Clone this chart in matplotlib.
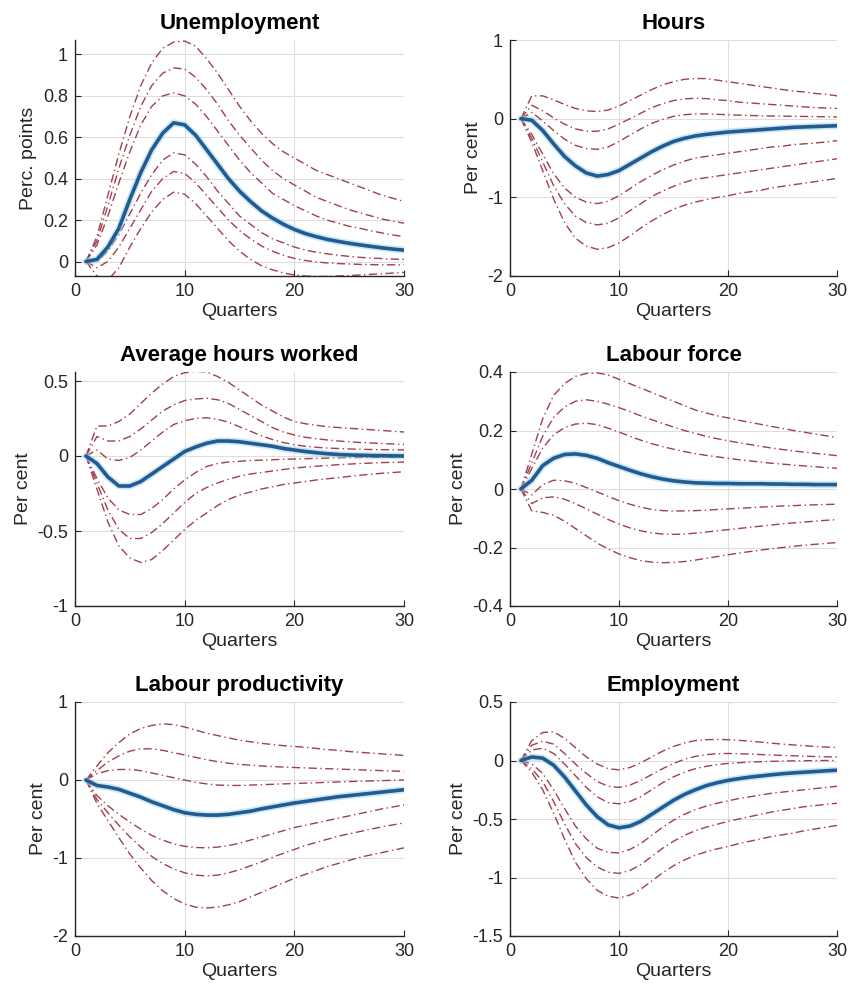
import numpy as np
from matplotlib import pyplot as plt
from matplotlib.ticker import FormatStrFormatter

plt.rcParams['font.family'] = ['Liberation Sans', 'DejaVu Sans']
plt.rcParams['axes.unicode_minus'] = False

##

quarters = list(range(1, 31))

# impulse responses: median plus three upper / three lower percentile bands
unemp_med = [0, 0.01, 0.07, 0.16, 0.30, 0.43, 0.54, 0.62, 0.67, 0.66,
             0.61, 0.54, 0.47, 0.40, 0.34, 0.29, 0.245, 0.21, 0.18, 0.155,
             0.135, 0.12, 0.107, 0.097, 0.088, 0.08, 0.073, 0.066, 0.06, 0.055]
unemp_bands = [
    [0, 0.12, 0.32, 0.52, 0.70, 0.85, 0.96, 1.03, 1.06, 1.065,
     1.04, 0.98, 0.91, 0.83, 0.75, 0.68, 0.62, 0.57, 0.53, 0.50,
     0.47, 0.44, 0.42, 0.40, 0.38, 0.36, 0.34, 0.32, 0.305, 0.29],
    [0, 0.10, 0.27, 0.45, 0.61, 0.75, 0.85, 0.91, 0.935, 0.93,
     0.89, 0.83, 0.76, 0.68, 0.61, 0.55, 0.49, 0.44, 0.40, 0.37,
     0.34, 0.31, 0.29, 0.27, 0.25, 0.235, 0.22, 0.205, 0.195, 0.185],
    [0, 0.08, 0.22, 0.38, 0.53, 0.66, 0.75, 0.80, 0.815, 0.80,
     0.76, 0.70, 0.63, 0.56, 0.49, 0.43, 0.38, 0.33, 0.30, 0.27,
     0.245, 0.22, 0.20, 0.185, 0.17, 0.16, 0.148, 0.138, 0.128, 0.12],
    [0, 0.0, 0.05, 0.13, 0.23, 0.33, 0.42, 0.49, 0.525, 0.515,
     0.47, 0.41, 0.34, 0.28, 0.22, 0.18, 0.14, 0.11, 0.09, 0.07,
     0.055, 0.045, 0.037, 0.03, 0.025, 0.02, 0.017, 0.014, 0.012, 0.01],
    [0, -0.03, 0.0, 0.07, 0.16, 0.25, 0.34, 0.40, 0.435, 0.425,
     0.38, 0.32, 0.26, 0.20, 0.15, 0.11, 0.075, 0.05, 0.03, 0.015,
     0.005, -0.002, -0.007, -0.01, -0.012, -0.014, -0.015, -0.016, -0.016, -0.016],
    [0, -0.07, -0.09, -0.03, 0.07, 0.16, 0.24, 0.30, 0.335, 0.325,
     0.28, 0.22, 0.16, 0.10, 0.05, 0.01, -0.02, -0.04, -0.055, -0.065,
     -0.07, -0.072, -0.072, -0.07, -0.068, -0.065, -0.062, -0.059, -0.056, -0.053],
]

hours_med = [0, -0.02, -0.15, -0.32, -0.48, -0.60, -0.69, -0.73, -0.71, -0.66,
             -0.58, -0.50, -0.42, -0.35, -0.29, -0.25, -0.22, -0.20, -0.185, -0.17,
             -0.16, -0.15, -0.14, -0.13, -0.12, -0.11, -0.105, -0.10, -0.095, -0.09]
hours_bands = [
    [0, 0.29, 0.29, 0.24, 0.18, 0.13, 0.10, 0.09, 0.11, 0.16,
     0.23, 0.30, 0.37, 0.43, 0.47, 0.50, 0.51, 0.51, 0.49, 0.47,
     0.45, 0.43, 0.41, 0.39, 0.37, 0.35, 0.34, 0.32, 0.31, 0.29],
    [0, 0.17, 0.10, 0.01, -0.07, -0.13, -0.16, -0.16, -0.13, -0.07,
     0.0, 0.07, 0.14, 0.19, 0.23, 0.25, 0.26, 0.255, 0.24, 0.23,
     0.21, 0.20, 0.19, 0.18, 0.17, 0.16, 0.15, 0.14, 0.135, 0.13],
    [0, 0.08, -0.03, -0.15, -0.26, -0.34, -0.38, -0.39, -0.36, -0.29,
     -0.21, -0.13, -0.06, -0.01, 0.03, 0.05, 0.06, 0.06, 0.055, 0.05,
     0.045, 0.04, 0.037, 0.034, 0.032, 0.03, 0.028, 0.026, 0.024, 0.022],
    [0, -0.20, -0.45, -0.70, -0.88, -1.00, -1.06, -1.08, -1.05, -0.98,
     -0.89, -0.80, -0.72, -0.65, -0.59, -0.54, -0.50, -0.48, -0.46, -0.44,
     -0.42, -0.40, -0.38, -0.36, -0.35, -0.33, -0.32, -0.31, -0.295, -0.28],
    [0, -0.25, -0.55, -0.85, -1.08, -1.24, -1.32, -1.35, -1.33, -1.26,
     -1.17, -1.08, -0.99, -0.92, -0.86, -0.81, -0.77, -0.75, -0.73, -0.71,
     -0.69, -0.67, -0.65, -0.63, -0.61, -0.59, -0.57, -0.55, -0.53, -0.51],
    [0, -0.30, -0.66, -1.02, -1.32, -1.52, -1.62, -1.66, -1.64, -1.58,
     -1.49, -1.39, -1.30, -1.22, -1.15, -1.10, -1.06, -1.03, -1.00, -0.98,
     -0.95, -0.93, -0.91, -0.88, -0.86, -0.84, -0.82, -0.80, -0.78, -0.76],
]

avgh_med = [0, -0.05, -0.14, -0.20, -0.20, -0.17, -0.12, -0.07, -0.02, 0.03,
            0.06, 0.085, 0.10, 0.10, 0.095, 0.085, 0.075, 0.065, 0.05, 0.04,
            0.03, 0.022, 0.015, 0.01, 0.007, 0.005, 0.003, 0.002, 0.001, 0.0]
avgh_bands = [
    [0, 0.20, 0.20, 0.23, 0.28, 0.35, 0.42, 0.48, 0.53, 0.555,
     0.565, 0.56, 0.53, 0.49, 0.44, 0.39, 0.34, 0.30, 0.26, 0.23,
     0.215, 0.205, 0.195, 0.19, 0.185, 0.18, 0.175, 0.17, 0.165, 0.16],
    [0, 0.13, 0.10, 0.10, 0.13, 0.18, 0.24, 0.30, 0.34, 0.37,
     0.38, 0.385, 0.375, 0.35, 0.31, 0.27, 0.23, 0.19, 0.16, 0.14,
     0.125, 0.115, 0.107, 0.10, 0.095, 0.09, 0.087, 0.083, 0.08, 0.077],
    [0, 0.04, -0.02, -0.03, -0.01, 0.04, 0.10, 0.16, 0.21, 0.235,
     0.25, 0.255, 0.245, 0.225, 0.195, 0.165, 0.135, 0.11, 0.09, 0.075,
     0.065, 0.058, 0.053, 0.05, 0.047, 0.045, 0.043, 0.042, 0.041, 0.04],
    [0, -0.15, -0.28, -0.36, -0.39, -0.39, -0.35, -0.29, -0.22, -0.16,
     -0.11, -0.07, -0.05, -0.04, -0.035, -0.03, -0.028, -0.025, -0.022, -0.02,
     -0.018, -0.016, -0.014, -0.012, -0.011, -0.01, -0.009, -0.008, -0.007, -0.006],
    [0, -0.18, -0.36, -0.49, -0.55, -0.55, -0.51, -0.45, -0.38, -0.31,
     -0.25, -0.21, -0.18, -0.155, -0.135, -0.12, -0.11, -0.10, -0.09, -0.08,
     -0.074, -0.068, -0.063, -0.058, -0.054, -0.05, -0.047, -0.044, -0.042, -0.04],
    [0, -0.22, -0.44, -0.60, -0.68, -0.71, -0.69, -0.63, -0.56, -0.49,
     -0.43, -0.38, -0.33, -0.29, -0.26, -0.24, -0.22, -0.205, -0.19, -0.18,
     -0.17, -0.16, -0.152, -0.144, -0.136, -0.128, -0.121, -0.115, -0.11, -0.105],
]

lforce_med = [0, 0.03, 0.08, 0.105, 0.118, 0.12, 0.115, 0.105, 0.09, 0.077,
              0.064, 0.052, 0.042, 0.034, 0.028, 0.024, 0.021, 0.02, 0.019, 0.019,
              0.018, 0.018, 0.018, 0.017, 0.017, 0.016, 0.016, 0.015, 0.015, 0.015]
lforce_bands = [
    [0, 0.12, 0.24, 0.32, 0.36, 0.385, 0.395, 0.397, 0.39, 0.375,
     0.36, 0.345, 0.33, 0.315, 0.30, 0.285, 0.27, 0.26, 0.25, 0.243,
     0.235, 0.228, 0.221, 0.214, 0.207, 0.20, 0.194, 0.188, 0.182, 0.176],
    [0, 0.09, 0.18, 0.245, 0.28, 0.30, 0.305, 0.30, 0.29, 0.278,
     0.265, 0.25, 0.237, 0.224, 0.212, 0.20, 0.19, 0.18, 0.172, 0.165,
     0.158, 0.152, 0.146, 0.14, 0.135, 0.13, 0.126, 0.122, 0.118, 0.114],
    [0, 0.07, 0.14, 0.185, 0.21, 0.222, 0.225, 0.22, 0.208, 0.195,
     0.18, 0.167, 0.155, 0.145, 0.136, 0.128, 0.121, 0.115, 0.11, 0.105,
     0.10, 0.096, 0.092, 0.088, 0.085, 0.082, 0.079, 0.076, 0.073, 0.071],
    [0, -0.02, 0.015, 0.03, 0.028, 0.02, 0.005, -0.01, -0.025, -0.04,
     -0.052, -0.062, -0.07, -0.074, -0.075, -0.075, -0.074, -0.072, -0.07, -0.068,
     -0.066, -0.064, -0.062, -0.06, -0.058, -0.057, -0.055, -0.054, -0.053, -0.052],
    [0, -0.05, -0.03, -0.027, -0.035, -0.05, -0.068, -0.086, -0.104, -0.12,
     -0.133, -0.143, -0.15, -0.154, -0.155, -0.154, -0.151, -0.147, -0.143, -0.139,
     -0.135, -0.131, -0.127, -0.123, -0.119, -0.116, -0.113, -0.11, -0.107, -0.105],
    [0, -0.075, -0.08, -0.09, -0.11, -0.135, -0.16, -0.185, -0.205, -0.222,
     -0.235, -0.245, -0.25, -0.252, -0.251, -0.248, -0.243, -0.237, -0.231, -0.225,
     -0.219, -0.214, -0.209, -0.204, -0.20, -0.196, -0.192, -0.189, -0.186, -0.183],
]

prod_med = [0, -0.07, -0.09, -0.12, -0.17, -0.22, -0.28, -0.33, -0.38, -0.42,
            -0.44, -0.45, -0.45, -0.44, -0.42, -0.40, -0.37, -0.345, -0.32, -0.295,
            -0.275, -0.255, -0.235, -0.215, -0.20, -0.185, -0.17, -0.155, -0.14, -0.125]
prod_bands = [
    [0, 0.18, 0.35, 0.48, 0.59, 0.66, 0.70, 0.72, 0.71, 0.68,
     0.64, 0.60, 0.57, 0.54, 0.51, 0.49, 0.47, 0.455, 0.44, 0.43,
     0.42, 0.405, 0.39, 0.38, 0.365, 0.355, 0.345, 0.335, 0.325, 0.315],
    [0, 0.12, 0.23, 0.31, 0.37, 0.40, 0.40, 0.38, 0.35, 0.32,
     0.29, 0.26, 0.235, 0.215, 0.20, 0.19, 0.18, 0.172, 0.166, 0.16,
     0.155, 0.15, 0.145, 0.14, 0.135, 0.13, 0.125, 0.12, 0.115, 0.11],
    [0, 0.08, 0.12, 0.135, 0.135, 0.12, 0.09, 0.06, 0.03, 0.0,
     -0.03, -0.05, -0.065, -0.07, -0.07, -0.065, -0.06, -0.055, -0.05, -0.045,
     -0.04, -0.035, -0.03, -0.025, -0.02, -0.016, -0.012, -0.008, -0.004, 0.0],
    [0, -0.20, -0.33, -0.44, -0.54, -0.63, -0.71, -0.77, -0.82, -0.85,
     -0.865, -0.87, -0.86, -0.84, -0.81, -0.77, -0.73, -0.69, -0.65, -0.61,
     -0.58, -0.55, -0.52, -0.49, -0.46, -0.43, -0.40, -0.37, -0.345, -0.32],
    [0, -0.25, -0.42, -0.58, -0.73, -0.86, -0.98, -1.07, -1.14, -1.19,
     -1.22, -1.23, -1.22, -1.19, -1.15, -1.10, -1.05, -0.99, -0.94, -0.89,
     -0.84, -0.80, -0.76, -0.72, -0.69, -0.66, -0.63, -0.60, -0.575, -0.55],
    [0, -0.30, -0.52, -0.74, -0.95, -1.13, -1.29, -1.42, -1.52, -1.59,
     -1.63, -1.64, -1.63, -1.60, -1.56, -1.50, -1.44, -1.38, -1.32, -1.26,
     -1.21, -1.16, -1.11, -1.07, -1.03, -0.99, -0.96, -0.93, -0.90, -0.87],
]

emp_med = [0, 0.03, 0.02, -0.04, -0.14, -0.26, -0.38, -0.48, -0.55, -0.575,
           -0.56, -0.52, -0.46, -0.40, -0.34, -0.29, -0.25, -0.215, -0.19, -0.17,
           -0.155, -0.142, -0.132, -0.122, -0.113, -0.106, -0.10, -0.094, -0.088, -0.083]
emp_bands = [
    [0, 0.17, 0.24, 0.245, 0.19, 0.11, 0.03, -0.03, -0.07, -0.08,
     -0.06, -0.02, 0.03, 0.08, 0.12, 0.15, 0.17, 0.178, 0.18, 0.178,
     0.172, 0.165, 0.157, 0.148, 0.14, 0.133, 0.126, 0.12, 0.115, 0.11],
    [0, 0.13, 0.165, 0.14, 0.06, -0.03, -0.11, -0.18, -0.22, -0.23,
     -0.21, -0.17, -0.12, -0.07, -0.025, 0.01, 0.035, 0.05, 0.058, 0.06,
     0.058, 0.055, 0.051, 0.047, 0.043, 0.04, 0.037, 0.034, 0.032, 0.03],
    [0, 0.09, 0.105, 0.06, -0.03, -0.13, -0.23, -0.31, -0.36, -0.37,
     -0.35, -0.31, -0.25, -0.19, -0.14, -0.10, -0.07, -0.05, -0.035, -0.025,
     -0.019, -0.014, -0.01, -0.007, -0.005, -0.003, -0.002, -0.001, 0.0, 0.0],
    [0, -0.03, -0.11, -0.25, -0.41, -0.56, -0.67, -0.75, -0.785, -0.79,
     -0.76, -0.71, -0.64, -0.57, -0.51, -0.46, -0.42, -0.39, -0.365, -0.345,
     -0.325, -0.31, -0.295, -0.28, -0.27, -0.26, -0.25, -0.24, -0.23, -0.22],
    [0, -0.07, -0.18, -0.35, -0.54, -0.71, -0.83, -0.91, -0.955, -0.965,
     -0.94, -0.89, -0.82, -0.75, -0.69, -0.64, -0.60, -0.57, -0.545, -0.52,
     -0.50, -0.48, -0.46, -0.44, -0.425, -0.41, -0.395, -0.385, -0.375, -0.365],
    [0, -0.10, -0.25, -0.45, -0.67, -0.87, -1.01, -1.11, -1.16, -1.175,
     -1.15, -1.10, -1.03, -0.96, -0.90, -0.85, -0.81, -0.78, -0.755, -0.735,
     -0.71, -0.69, -0.67, -0.65, -0.635, -0.62, -0.60, -0.585, -0.57, -0.555],
]

##

BAND = '#a0404c'
MED = '#235b8e'
HALO = '#9fd4f2'
INK = '#262626'


def irf_panel(ax, title, ylab, med, bands, ylim, yticks):
    '''
    one impulse response: dash-dot percentile bands in red,
    thick blue median on top, MATLAB-ish axes.
    '''
    ax.grid(True, color='#dedede', lw=0.8)
    ax.set_axisbelow(True)
    for b in bands:
        ax.plot(quarters, b, color=BAND, lw=1.0, dashes=(6, 2.5, 1, 2.5))
    ax.plot(quarters, med, color=HALO, lw=5.0, alpha=0.55, solid_capstyle='round')
    ax.plot(quarters, med, color=MED, lw=2.6, solid_capstyle='round')

    ax.set_xlim(0, 30)
    ax.set_ylim(ylim)
    ax.set_xticks([0, 10, 20, 30])
    ax.set_yticks(yticks)
    ax.yaxis.set_major_formatter(FormatStrFormatter('%g'))

    for s in ['top', 'right']:
        ax.spines[s].set_visible(False)
    for s in ['left', 'bottom']:
        ax.spines[s].set_color(INK)
        ax.spines[s].set_linewidth(1.0)
    ax.tick_params(direction='in', length=4, width=0.8, colors=INK,
                   labelsize=13, pad=5)

    ax.set_title(title, fontsize=16, fontweight='bold', color='black', pad=8)
    ax.set_xlabel('Quarters', fontsize=14, color=INK, labelpad=2)
    ax.set_ylabel(ylab, fontsize=14, color=INK, labelpad=4)


fig = plt.figure(figsize=(8.5, 9.92), dpi=100)

cols = [75/850, 510/850]
widths = [329/850, 327/850]
rows = [(1 - 276/992, 236/992), (1 - 606/992, 234/992), (1 - 936/992, 234/992)]

panels = [
    ('Unemployment', 'Perc. points', unemp_med, unemp_bands, (-0.07, 1.07), [0, 0.2, 0.4, 0.6, 0.8, 1]),
    ('Hours', 'Per cent', hours_med, hours_bands, (-2, 1), [-2, -1, 0, 1]),
    ('Average hours worked', 'Per cent', avgh_med, avgh_bands, (-1, 0.56), [-1, -0.5, 0, 0.5]),
    ('Labour force', 'Per cent', lforce_med, lforce_bands, (-0.4, 0.4), [-0.4, -0.2, 0, 0.2, 0.4]),
    ('Labour productivity', 'Per cent', prod_med, prod_bands, (-2, 1), [-2, -1, 0, 1]),
    ('Employment', 'Per cent', emp_med, emp_bands, (-1.5, 0.5), [-1.5, -1, -0.5, 0, 0.5]),
]

for i, (title, ylab, med, bands, ylim, yticks) in enumerate(panels):
    r, c = divmod(i, 2)
    ax = fig.add_axes([cols[c], rows[r][0], widths[c], rows[r][1]])
    irf_panel(ax, title, ylab, med, bands, ylim, yticks)

fig.savefig('out.png', dpi=100)
